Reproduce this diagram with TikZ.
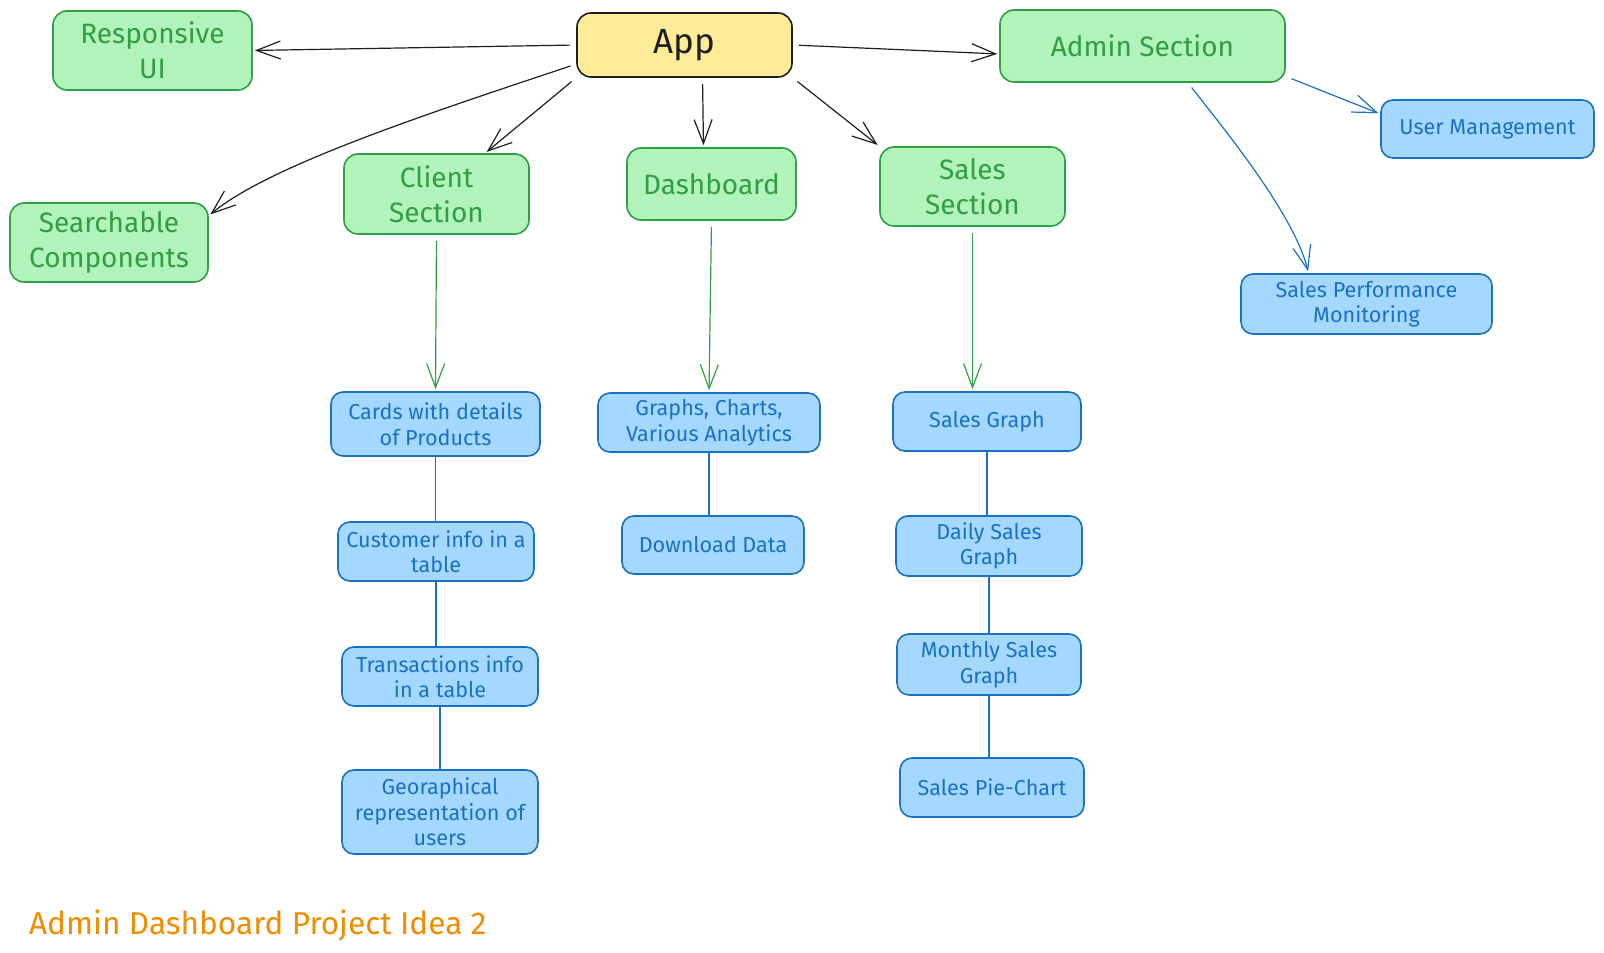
\documentclass[tikz,border=0pt]{standalone}
\usepackage{fontspec}
\setmainfont{Fira Sans}
\usetikzlibrary{arrows.meta}
\definecolor{vertfond}{HTML}{B2F2BB}
\definecolor{vert}{HTML}{2F9E44}
\definecolor{bleufond}{HTML}{A5D8FF}
\definecolor{bleu}{HTML}{1971C2}
\definecolor{jaune}{HTML}{FFEC99}
\definecolor{noir}{HTML}{1E1E1E}
\definecolor{titre}{HTML}{F08C00}
\newcommand{\boite}[6]{\node[#1,minimum width=#4pt,minimum height=#5pt] (#2) at (#3) {#6}}
\newcommand{\fleche}[3]{\draw[#1,pointe] (#2) -- (#3)}
\newcommand{\trait}[2]{\draw[bleu,line width=0.7pt] (#1) -- (#1 |- #2)}
\tikzset{
	pointe/.style={-{Straight Barb[length=12pt,width=9pt]},line width=0.6pt,shorten >=1pt,shorten <=3pt},
	vertbox/.style={draw=vert,fill=vertfond,text=vert,rounded corners=7pt,line width=0.8pt,
		align=center,font=\fontsize{14}{17.5}\selectfont},
	bleubox/.style={draw=bleu,fill=bleufond,text=bleu,rounded corners=6pt,line width=0.8pt,
		align=center,inner sep=1pt,font=\fontsize{10.8}{12.8}\selectfont},
	appbox/.style={draw=noir,fill=jaune,text=noir,rounded corners=7pt,line width=0.8pt,
		font=\fontsize{17.5}{21}\selectfont}
}
\begin{document}
\begin{tikzpicture}[x=0.5pt,y=-0.5pt]
	\useasboundingbox (0,0) rectangle (1604,952);
%
	\boite{appbox}{app}{684.5,45}{107.5}{32}{App};
	\boite{vertbox}{resp}{152.5,50.5}{99.5}{39.5}{Responsive\\UI};
	\boite{vertbox}{admin}{1142.5,46}{142.5}{36}{Admin Section};
	\boite{vertbox}{search}{109,242.5}{99}{39.5}{Searchable\\Components};
	\boite{vertbox}{client}{436.5,194}{92.5}{40}{Client\\Section};
	\boite{vertbox}{dash}{711.5,184}{84.5}{36}{Dashboard};
	\boite{vertbox}{sales}{972.5,186.5}{92.5}{39.5}{Sales\\Section};
%
	\boite{bleubox}{users}{1487.5,129}{106.5}{29}{User Management};
	\boite{bleubox}{perf}{1366.5,304}{125.5}{30}{Sales Performance\\Monitoring};
%
	\boite{bleubox}{cards}{435.5,424}{104.5}{32}{Cards with details\\of Products};
	\boite{bleubox}{cust}{436,551.5}{98}{29.5}{Customer info in a\\table};
	\boite{bleubox}{trans}{440,676.5}{98}{29.5}{Transactions info\\in a table};
	\boite{bleubox}{geo}{440,812}{98}{42}{Georaphical\\representation of\\users};
%
	\boite{bleubox}{graphs}{709,422.5}{111}{29.5}{Graphs, Charts,\\Various Analytics};
	\boite{bleubox}{dl}{713,545}{91}{29}{Download Data};
%
	\boite{bleubox}{sg}{987,421.5}{94}{29.5}{Sales Graph};
	\boite{bleubox}{daily}{989,546}{93}{30}{Daily Sales\\Graph};
	\boite{bleubox}{monthly}{989,664.5}{92}{30.5}{Monthly Sales\\Graph};
	\boite{bleubox}{pie}{992,787.5}{92}{29.5}{Sales Pie-Chart};
%
	\node[anchor=west,text=titre,font=\fontsize{15.8}{19}\selectfont] (titre) at (22,926) {Admin Dashboard Project Idea 2};
%
	\fleche{noir}{app.west}{resp.east};
	\draw[noir,pointe] (app.190) .. controls +(-150,50) and +(60,-50) .. (search.15);
	\fleche{noir}{app.south west}{client.40};
	\fleche{noir}{[xshift=9pt]app.south}{[xshift=-4pt]dash.north};
	\fleche{noir}{app.south east}{sales.north west};
	\fleche{noir}{app.east}{[yshift=-4pt]admin.west};
%
	\fleche{vert}{client.south}{cards.north};
	\fleche{vert}{dash.south}{graphs.north};
	\fleche{vert}{sales.south}{sales.south |- sg.north};
%
	\fleche{bleu}{admin.-12}{users.172};
	\draw[bleu,pointe] (admin.-39) .. controls +(35,45) and +(-15,-60) .. (perf.152);
%
	\trait{cards.south}{cust.north};
	\trait{cust.south}{trans.north};
	\trait{trans.south}{geo.north};
	\trait{graphs.south}{dl.north};
	\trait{sg.south}{daily.north};
	\trait{daily.south}{monthly.north};
	\trait{monthly.south}{pie.north};
%
\end{tikzpicture}
\end{document}
